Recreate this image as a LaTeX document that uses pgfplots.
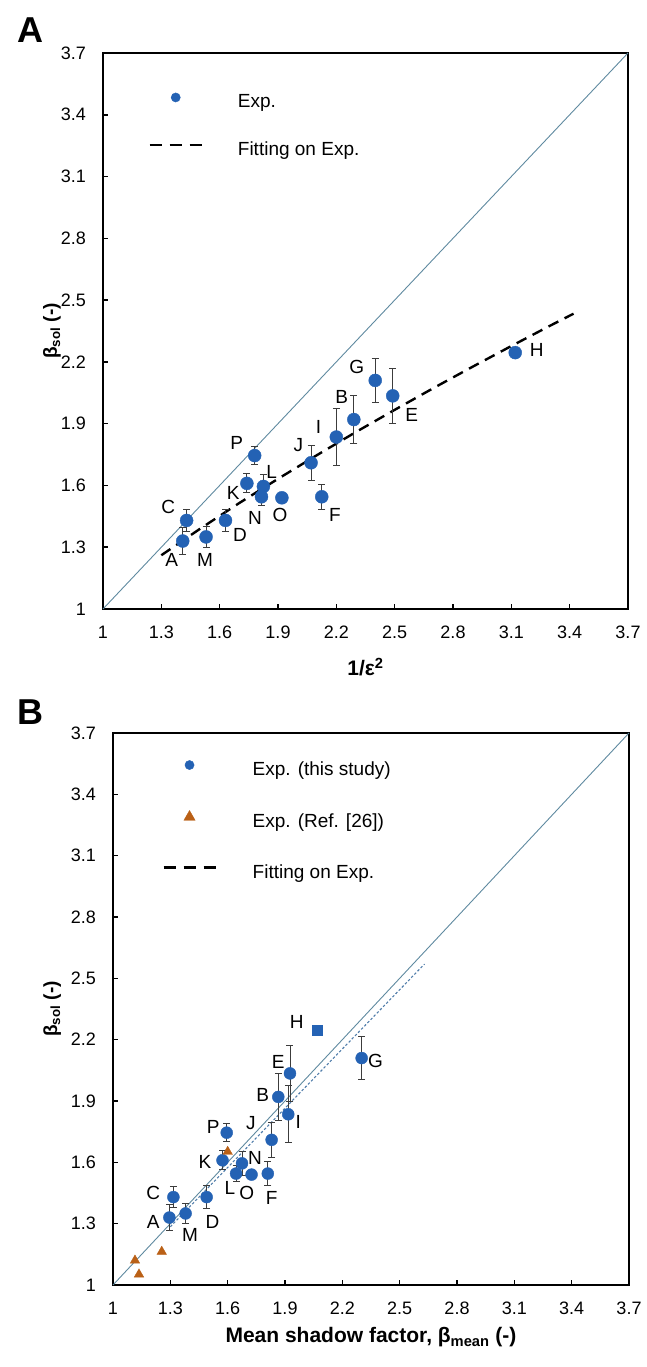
\documentclass[border=0pt]{standalone}
\usepackage{fontspec}
\setmainfont{Liberation Sans}
\usepackage{pgfplots}
\usepackage{pgfplotstable}
\pgfplotsset{compat=1.18}

\definecolor{expblue}{RGB}{36,98,180}
\definecolor{reforange}{RGB}{186,96,22}
\definecolor{parity}{RGB}{95,138,160}
\definecolor{errgray}{RGB}{60,60,60}
\definecolor{fitblue}{RGB}{80,125,170}

\newcommand{\tickfont}{\fontsize{18bp}{21bp}\selectfont}
\newcommand{\ptfont}{\fontsize{19bp}{22bp}\selectfont}

% beta_sol measurements with their spread (this study)
% columns: 1/eps^2, mean shadow factor, beta_sol, error
\pgfplotstableread{
inv    bmean  y      e
1.41   1.295  1.330  0.065
1.43   1.316  1.430  0.052
1.53   1.380  1.350  0.050
1.63   1.490  1.430  0.055
1.74   1.573  1.610  0.046
1.78   1.595  1.745  0.045
1.825  1.675  1.595  0.060
1.815  1.644  1.545  0.040
2.07   1.830  1.710  0.085
2.125  1.810  1.545  0.060
2.20   1.917  1.835  0.140
2.29   1.865  1.920  0.115
2.40   2.301  2.110  0.105
2.49   1.926  2.035  0.135
}\witherr
% point O, no visible spread
\pgfplotstableread{
inv    bmean  y
1.92   1.725  1.540
}\pointO
% point H, no visible spread
\pgfplotstableread{
inv    bmean  y
3.12   2.069  2.245
}\pointH
% literature data, Ref. [26]
\pgfplotstableread{
x      y
1.115  1.120
1.136  1.052
1.255  1.163
1.600  1.652
}\refdata
% fitted curve on 1/eps^2
\pgfplotstableread{
x     y
1.30  1.261
1.50  1.390
1.70  1.514
1.90  1.632
2.10  1.747
2.30  1.859
2.50  1.967
2.70  2.073
2.90  2.176
3.10  2.277
3.30  2.376
3.42  2.434
}\fitA

\pgfplotsset{
  betaframe/.style={
    scale only axis,
    xmin=1, xmax=3.7, ymin=1, ymax=3.7,
    xtick={1,1.3,1.6,1.9,2.2,2.5,2.8,3.1,3.4,3.7},
    ytick={1,1.3,1.6,1.9,2.2,2.5,2.8,3.1,3.4,3.7},
    /pgf/number format/assume math mode=true,
    xtick pos=left, ytick pos=left,
    tick align=inside,
    major tick length=5bp,
    tick style={black, line width=1.6bp},
    axis line style={black, line width=2.6bp},
    ticklabel style={font=\tickfont},
    xticklabel style={anchor=north, inner sep=0pt, yshift=-17bp},
    yticklabel style={anchor=east, inner sep=0pt, xshift=-17bp},
    clip=false,
    legend cell align=left,
    every axis y label/.style={rotate=90, anchor=center,
      font=\fontsize{19bp}{22bp}\selectfont\bfseries},
    every axis x label/.style={anchor=base,
      font=\fontsize{21bp}{25bp}\selectfont\bfseries},
  },
  expmarks/.style={only marks, mark=*, mark size=6.5bp,
    mark options={fill=expblue, draw=expblue}},
  experr/.style={
    /pgfplots/error bars/y dir=both,
    /pgfplots/error bars/y explicit,
    /pgfplots/error bars/error bar style={errgray, line width=0.9bp},
    /pgfplots/error bars/error mark options={rotate=90, errgray,
      mark size=3.5bp, line width=0.9bp}},
  legmark/.style={legend image code/.code={
      \path[draw=none, fill=none] (0bp,1bp) rectangle (52bp,11bp);
      \draw[##1] plot coordinates {(26bp,6bp)};}},
  legline/.style={legend image code/.code={
      \path[draw=none, fill=none] (0bp,1bp) rectangle (52bp,11bp);
      \draw[##1] (0bp,6bp) -- (52bp,6bp);}},
}

\begin{document}
\begin{tikzpicture}
\useasboundingbox (0bp,0bp) rectangle (647bp,1367bp);

\node[font=\fontsize{36bp}{42bp}\selectfont\bfseries] at (30bp,1337bp) {A};
\node[font=\fontsize{36bp}{42bp}\selectfont\bfseries] at (30bp,655bp) {B};

% ---------------- Panel A ----------------
\begin{axis}[betaframe,
  at={(103bp,758bp)}, anchor=south west,
  width=525bp, height=556bp,
  xlabel={1/ε\textsuperscript{2}},
  x label style={at={(axis description cs:0.5,-0.12)}},
  ylabel={β\textsubscript{sol} (-)},
  y label style={at={(axis description cs:-0.097,0.5)}},
  legend style={draw=none, fill=none, inner sep=0pt, outer sep=0pt,
    at={(axis description cs:0.0867,0.929)}, anchor=north west,
    row sep=28bp, column sep=35bp,
    nodes={inner sep=0pt, text height=13bp, text depth=4bp, font=\ptfont}},
]
\addplot[parity, line width=0.9bp, forget plot] coordinates {(1,1) (3.7,3.7)};
\addplot[black, line width=2.4bp, dash pattern=on 11bp off 7bp, forget plot]
  table[x=x, y=y] {\fitA};
\addplot[expmarks, experr, forget plot] table[x=inv, y=y, y error=e] {\witherr};
\addplot[expmarks, forget plot] table[x=inv, y=y] {\pointO};
\addplot[expmarks, forget plot] table[x=inv, y=y] {\pointH};

\addlegendimage{only marks, mark=*, mark size=4.6bp, expblue, legmark}
\addlegendentry{Exp.}
\addlegendimage{black, line width=2.4bp, dash pattern=on 12bp off 8bp, legline}
\addlegendentry{Fitting on Exp.}

\begin{scope}[every node/.style={font=\ptfont}]
\node at (axis cs:1.353,1.238) {A};
\node at (axis cs:1.525,1.238) {M};
\node at (axis cs:1.336,1.497) {C};
\node at (axis cs:1.705,1.359) {D};
\node at (axis cs:1.670,1.562) {K};
\node at (axis cs:1.868,1.667) {L};
\node at (axis cs:1.782,1.440) {N};
\node at (axis cs:1.910,1.457) {O};
\node at (axis cs:2.193,1.457) {F};
\node at (axis cs:1.688,1.805) {P};
\node at (axis cs:2.005,1.796) {J};
\node at (axis cs:2.108,1.885) {I};
\node at (axis cs:2.228,2.031) {B};
\node at (axis cs:2.305,2.174) {G};
\node at (axis cs:2.588,1.942) {E};
\node at (axis cs:3.230,2.258) {H};
\end{scope}
\end{axis}

% ---------------- Panel B ----------------
\begin{axis}[betaframe,
  at={(113bp,82bp)}, anchor=south west,
  width=516bp, height=552bp,
  xlabel={Mean shadow factor, β\textsubscript{mean} (-)},
  x label style={at={(axis description cs:0.5,-0.105)}},
  ylabel={β\textsubscript{sol} (-)},
  y label style={at={(axis description cs:-0.118,0.5)}},
  legend style={draw=none, fill=none, inner sep=0pt, outer sep=0pt,
    at={(axis description cs:0.0956,0.951)}, anchor=north west,
    row sep=31bp, column sep=36bp,
    nodes={inner sep=0pt, text height=13bp, text depth=4bp, font=\ptfont}},
]
\addplot[parity, line width=0.9bp, forget plot] coordinates {(1,1) (3.7,3.7)};
\addplot[fitblue, line width=1.1bp, dash pattern=on 2.5bp off 2bp, forget plot]
  coordinates {(1.30,1.285) (2.63,2.570)};
\addplot[expmarks, mark size=6bp, experr, forget plot]
  table[x=bmean, y=y, y error=e] {\witherr};
\addplot[expmarks, mark size=6bp, forget plot]
  table[x=bmean, y=y] {\pointO};
\addplot[expmarks, mark=square*, mark size=5bp, forget plot]
  table[x=bmean, y=y] {\pointH};
\addplot[only marks, mark=triangle*, mark size=5.5bp,
  mark options={fill=reforange, draw=reforange}, forget plot]
  table[x=x, y=y] {\refdata};

\addlegendimage{only marks, mark=*, mark size=4.6bp, expblue, legmark}
\addlegendentry{Exp. (this study)}
\addlegendimage{only marks, mark=triangle*, mark size=6.5bp, reforange, legmark}
\addlegendentry{Exp. (Ref. [26])}
\addlegendimage{black, line width=2.4bp, dash pattern=on 12bp off 8bp, legline}
\addlegendentry{Fitting on Exp.}

\begin{scope}[every node/.style={font=\ptfont}]
\node at (axis cs:1.961,2.288) {H};
\node at (axis cs:1.865,2.093) {E};
\node at (axis cs:1.783,1.930) {B};
\node at (axis cs:1.969,1.799) {I};
\node at (axis cs:1.722,1.791) {J};
\node at (axis cs:1.525,1.775) {P};
\node at (axis cs:1.481,1.603) {K};
\node at (axis cs:1.743,1.620) {N};
\node at (axis cs:1.612,1.473) {L};
\node at (axis cs:1.700,1.449) {O};
\node at (axis cs:1.830,1.424) {F};
\node at (axis cs:1.211,1.449) {C};
\node at (axis cs:1.211,1.310) {A};
\node at (axis cs:1.521,1.310) {D};
\node at (axis cs:1.403,1.245) {M};
\node at (axis cs:2.374,2.097) {G};
\end{scope}
\end{axis}
\end{tikzpicture}
\end{document}
